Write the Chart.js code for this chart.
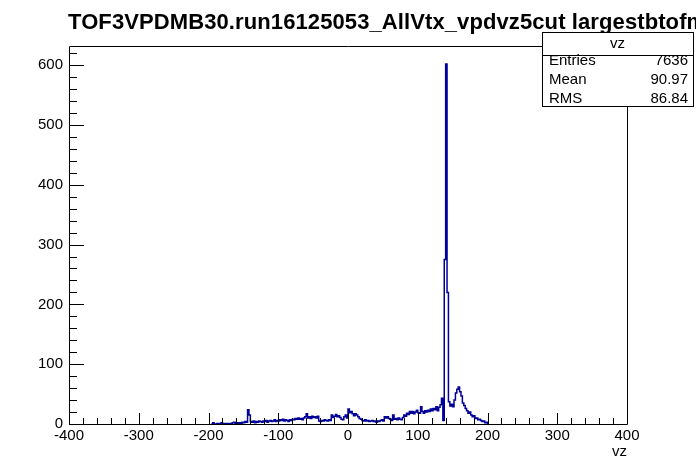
<!DOCTYPE html>
<html lang="en">
<head>
  <meta charset="UTF-8">
  <title>vz histogram</title>
  <script src="https://cdn.jsdelivr.net/npm/chart.js"></script>
  <style>
    html, body { margin: 0; padding: 0; background: #fff; }
  </style>
</head>
<body>
  <canvas id="vzChart" width="696" height="472"></canvas>

  <script>
    // histogram of vz, 2 cm bins starting at binStart
    const binStart = -196;
    const binWidth = 2;
    const counts = [
      0, 2, 0, 0, 1, 0, 1, 2, 0, 1,          // -196 .. -178
      0, 1, 0, 1, 0, 2, 3, 1, 2, 1,          // -176 .. -158
      2, 1, 3, 2, 4, 3, 24, 15, 4, 3,        // -156 .. -138
      5, 2, 4, 3, 5, 4, 3, 5, 4, 6,          // -136 .. -118
      3, 5, 6, 4, 5, 7, 4, 6, 5, 7,          // -116 .. -98
      6, 8, 5, 7, 6, 4, 7, 6, 8, 7,          // -96 .. -78
      9, 8, 10, 8, 9, 7, 10, 12, 17, 10,     // -76 .. -58
      12, 9, 13, 11, 12, 10, 13, 5, 4, 6,    // -56 .. -38
      5, 7, 6, 5, 7, 6, 15, 11, 13, 16,      // -36 .. -18
      12, 14, 11, 8, 7, 12, 15, 10, 25, 19,  // -16 .. 2
      21, 17, 14, 17, 15, 12, 9, 8, 6, 5,    // 4 .. 22
      7, 5, 6, 4, 5, 6, 4, 5, 3, 5,          // 24 .. 42
      4, 6, 7, 5, 12, 10, 12, 9, 8, 6,       // 44 .. 62
      15, 8, 9, 7, 10, 8, 7, 11, 15, 13,     // 64 .. 82
      18, 16, 21, 18, 21, 17, 20, 23, 19, 18,  // 84 .. 102
      29, 21, 18, 22, 20, 23, 21, 25, 22, 26,  // 104 .. 122
      24, 29, 22, 28, 32, 43, 6, 275, 602, 220, // 124 .. 142
      37, 30, 33, 29, 40, 52, 58, 62, 54, 47,  // 144 .. 162
      35, 31, 26, 22, 18, 20, 15, 12, 14, 9,   // 164 .. 182
      10, 7, 8, 6, 4, 5, 2, 3                  // 184 .. 198
    ];

    const xTicks = [-400, -300, -200, -100, 0, 100, 200, 300, 400];
    const yTicks = [0, 100, 200, 300, 400, 500, 600];
    const xMin = -400, xMax = 400;
    const yMin = 0, yMax = 632;

    const titleText = 'TOF3VPDMB30.run16125053_AllVtx_vpdvz5cut largestbtofmult';
    const axisTitle = 'vz';
    const statTitle = 'vz';
    const statNames = ['Entries', 'Mean', 'RMS'];
    const statValues = ['7636', '90.97', '86.84'];

    // outline points for a stepped line
    const points = [{ x: binStart, y: 0 }];
    counts.forEach((c, i) => points.push({ x: binStart + i * binWidth, y: c }));
    points.push({ x: binStart + counts.length * binWidth, y: 0 });

    const FONT = '"Liberation Sans", Arial, sans-serif';

    // ROOT-like frame, tick marks, title and stats box
    const rootDecor = {
      id: 'rootDecor',
      afterDraw(chart) {
        const { ctx, chartArea: a, scales } = chart;
        const sx = scales.x, sy = scales.y;
        const L = a.left, R = a.right, T = a.top, B = a.bottom;
        ctx.save();
        ctx.strokeStyle = '#000';
        ctx.lineWidth = 1;

        ctx.beginPath();
        ctx.rect(L + 0.5, T + 0.5, R - L, B - T);
        ctx.stroke();

        ctx.beginPath();
        for (let v = xMin; v <= xMax; v += 20) {
          const px = Math.round(sx.getPixelForValue(v)) + 0.5;
          const len = v % 100 === 0 ? 11 : 6;
          ctx.moveTo(px, B);
          ctx.lineTo(px, B - len);
        }
        for (let v = yMin; v <= yMax; v += 20) {
          const py = Math.round(sy.getPixelForValue(v)) + 0.5;
          const len = v % 100 === 0 ? 15 : 8;
          ctx.moveTo(L, py);
          ctx.lineTo(L + len, py);
        }
        ctx.stroke();

        // title
        ctx.fillStyle = '#000';
        ctx.font = 'bold 22px ' + FONT;
        ctx.letterSpacing = '0.1px';
        ctx.textAlign = 'left';
        ctx.textBaseline = 'alphabetic';
        ctx.fillText(titleText, 68, 29);
        ctx.letterSpacing = '0px';

        // x axis title
        ctx.font = '15px ' + FONT;
        ctx.textAlign = 'right';
        ctx.fillText(axisTitle, R, 456);

        // stats box
        ctx.fillStyle = '#fff';
        ctx.fillRect(542, 32, 151, 74);
        ctx.strokeRect(542.5, 32.5, 151, 74);
        ctx.beginPath();
        ctx.moveTo(542, 55.5);
        ctx.lineTo(693, 55.5);
        ctx.stroke();
        ctx.fillStyle = '#000';
        ctx.textBaseline = 'middle';
        ctx.textAlign = 'center';
        ctx.fillText(statTitle, 617.5, 44);
        statNames.forEach((n, i) => {
          const yy = 61 + i * 19;
          ctx.textAlign = 'left';
          ctx.fillText(n, 549, yy);
          ctx.textAlign = 'right';
          ctx.fillText(statValues[i], 688, yy);
        });
        ctx.restore();
      }
    };

    const ctx = document.getElementById('vzChart').getContext('2d');
    const vzChart = new Chart(ctx, {
      type: 'line',
      data: {
        datasets: [{
          label: 'vz',
          data: points,
          stepped: 'before',
          borderColor: '#000099',
          borderWidth: 1.5,
          pointRadius: 0,
          fill: false,
          tension: 0
        }]
      },
      options: {
        responsive: false,
        animation: false,
        layout: { padding: { top: 46, right: 69, left: 0, bottom: 0 } },
        plugins: { legend: { display: false }, tooltip: { enabled: false }, title: { display: false } },
        scales: {
          x: {
            type: 'linear',
            min: xMin,
            max: xMax,
            afterBuildTicks: s => { s.ticks = xTicks.map(v => ({ value: v })); },
            afterFit: s => { s.height = 48; },
            grid: { display: false, drawTicks: false },
            border: { display: false },
            ticks: {
              color: '#000',
              font: { family: FONT, size: 15 },
              padding: 3,
              maxRotation: 0,
              autoSkip: false
            }
          },
          y: {
            type: 'linear',
            min: yMin,
            max: yMax,
            afterBuildTicks: s => { s.ticks = yTicks.map(v => ({ value: v })); },
            afterFit: s => { s.width = 69; },
            grid: { display: false, drawTicks: false },
            border: { display: false },
            ticks: {
              color: '#000',
              font: { family: FONT, size: 15 },
              padding: 6,
              autoSkip: false
            }
          }
        }
      },
      plugins: [rootDecor]
    });
  </script>
</body>
</html>
